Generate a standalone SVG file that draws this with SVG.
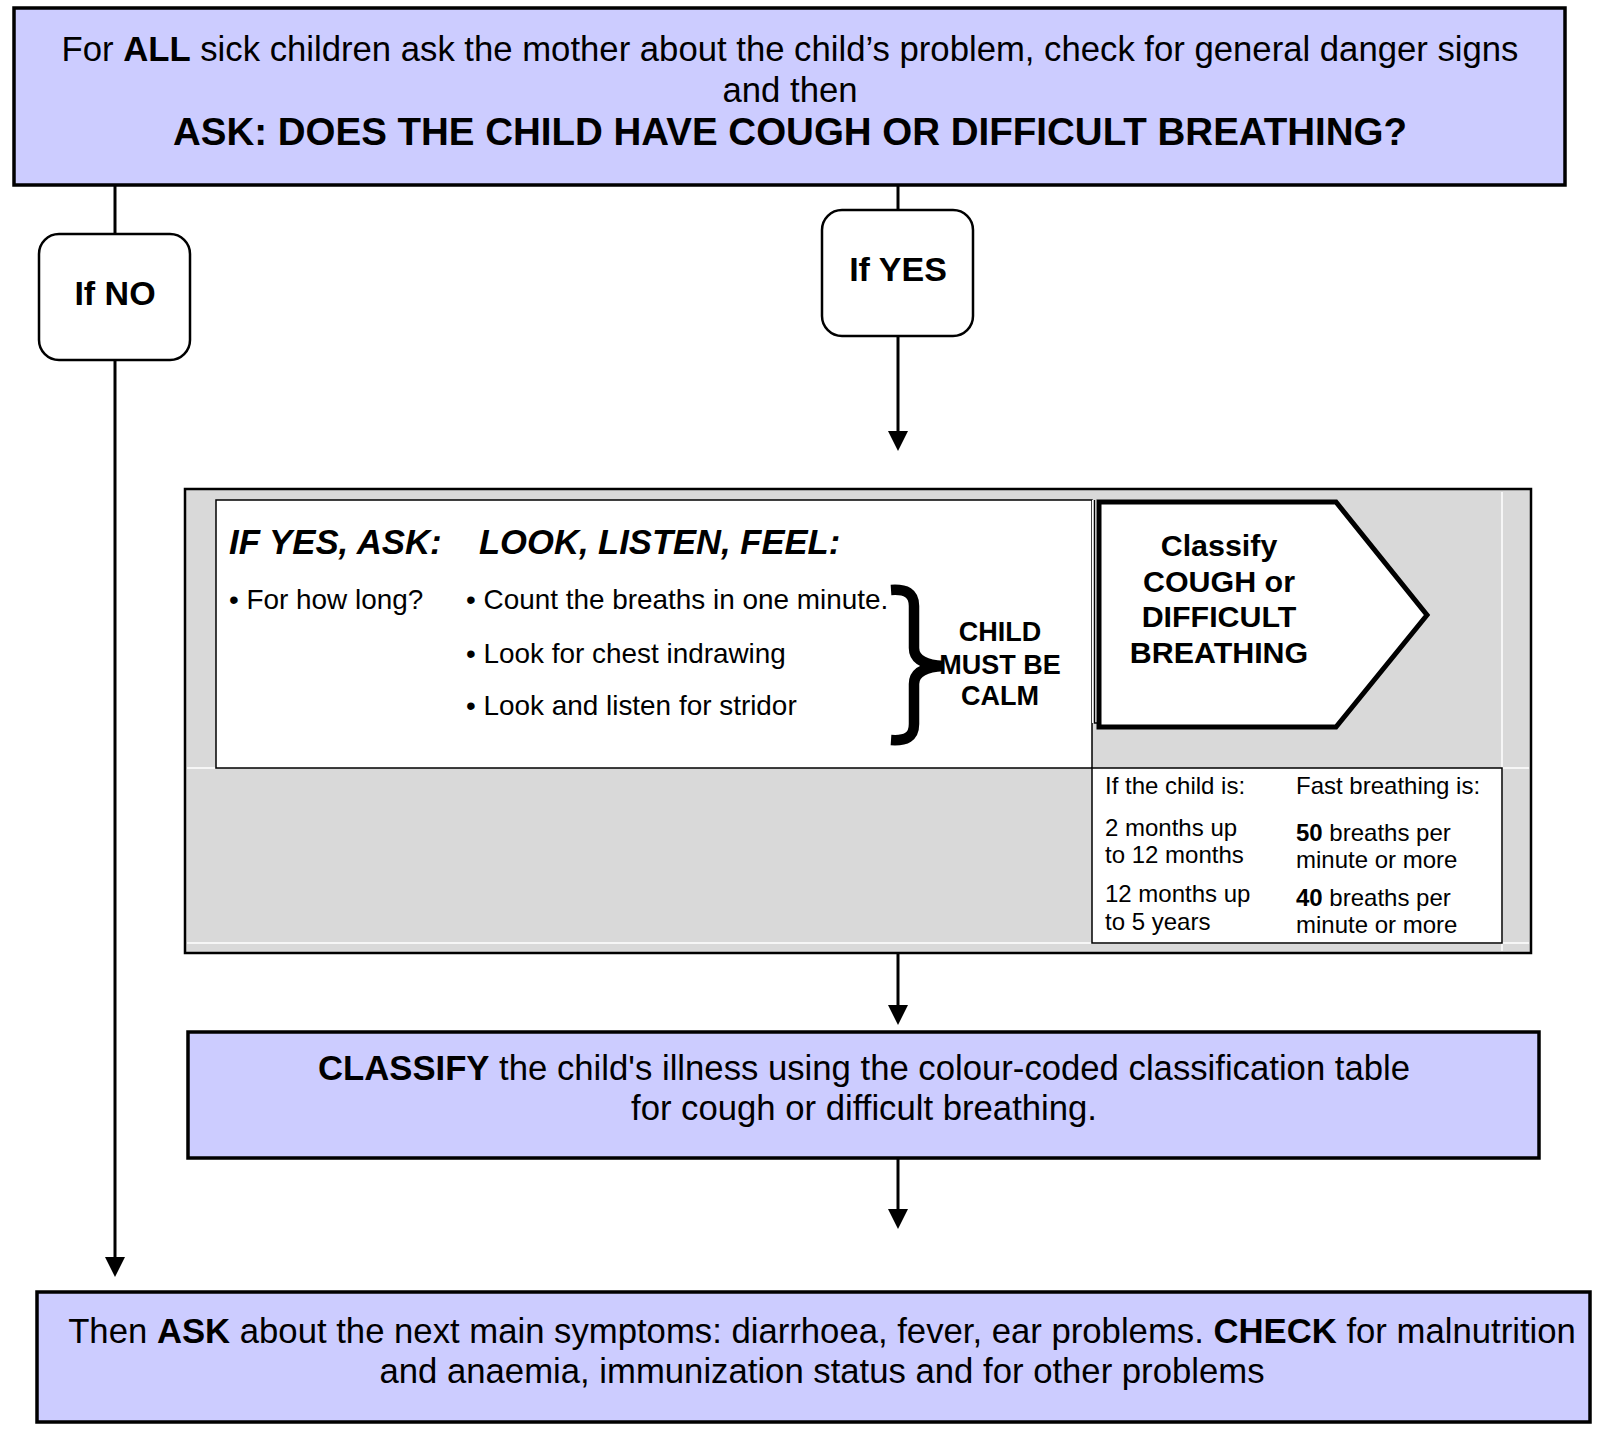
<svg xmlns="http://www.w3.org/2000/svg" width="1598" height="1429" viewBox="0 0 1598 1429">
<style>
text{font-family:"Liberation Sans",Arial,Helvetica,sans-serif;fill:#000}
.reg{font-size:34.7px}
.c{text-anchor:middle}
.b{font-weight:bold}
.lav{fill:#ccccff;stroke:#000;stroke-width:3.5}
.rnd{fill:#fff;stroke:#000;stroke-width:2.5}
.con{stroke:#000;stroke-width:3;fill:none}
.bul{font-size:27.9px}
.tb{font-size:24px}
.grid{stroke:#fff;stroke-width:1.5}
</style>
<defs>
<marker id="ah" viewBox="0 0 20 20" markerWidth="20" markerHeight="20" refX="10" refY="10" orient="auto" markerUnits="userSpaceOnUse">
<path d="M0,0 L20,10 L0,20 z" fill="#000"/>
</marker>
</defs>

<g id="connectors">
<line class="con" x1="115" y1="185" x2="115" y2="234"/>
<line class="con" x1="115" y1="360" x2="115" y2="1267" marker-end="url(#ah)"/>
<line class="con" x1="898" y1="185" x2="898" y2="210"/>
<line class="con" x1="898" y1="336" x2="898" y2="441" marker-end="url(#ah)"/>
<line class="con" x1="898" y1="953" x2="898" y2="1015" marker-end="url(#ah)"/>
<line class="con" x1="898" y1="1158" x2="898" y2="1219" marker-end="url(#ah)"/>
</g>

<g id="start">
<rect class="lav" x="14" y="8" width="1551" height="177"/>
<text class="reg c" x="790" y="61">For <tspan class="b">ALL</tspan> sick children ask the mother about the child’s problem, check for general danger signs</text>
<text class="reg c" x="790" y="102">and then</text>
<text class="b c" x="790" y="145" font-size="38.5">ASK: DOES THE CHILD HAVE COUGH OR DIFFICULT BREATHING?</text>
</g>

<g id="if-no">
<rect class="rnd" x="39" y="234" width="151" height="126" rx="20"/>
<text class="b c" x="115" y="305" font-size="34">If NO</text>
</g>

<g id="if-yes">
<rect class="rnd" x="822" y="210" width="151" height="126" rx="20"/>
<text class="b c" x="898" y="281" font-size="34">If YES</text>
</g>

<g id="assess">
<rect x="185" y="489" width="1346" height="464" fill="#d9d9d9" stroke="#000" stroke-width="2.5"/>
<line class="grid" x1="187" y1="768" x2="215" y2="768"/>
<line class="grid" x1="187" y1="943" x2="1529" y2="943"/>
<line class="grid" x1="1502" y1="492" x2="1502" y2="951"/>
<line class="grid" x1="1503" y1="768" x2="1529" y2="768"/>
<rect x="216" y="500" width="876" height="268" fill="#fff" stroke="#000" stroke-width="1.5"/>
<rect x="1092" y="500" width="8" height="223" fill="#fff"/>
<path d="M1094.5,500 L1094.5,723 L1100,723" fill="none" stroke="#000" stroke-width="1.5"/>
<text class="b" x="229" y="554" font-size="34.8" font-style="italic">IF YES, ASK:</text>
<text class="b" x="479" y="554" font-size="34.6" font-style="italic">LOOK, LISTEN, FEEL:</text>
<text class="bul" x="229" y="609">• For how long?</text>
<text class="bul" x="466" y="609">• Count the breaths in one minute.</text>
<text class="bul" x="466" y="663">• Look for chest indrawing</text>
<text class="bul" x="466" y="715">• Look and listen for stridor</text>
<path d="M891,590 C906,589 914,593 914,606 L914,648 C914,660 926,665 943,666 C926,667 914,672 914,684 L914,724 C914,737 906,741 891,740" fill="none" stroke="#000" stroke-width="10.5"/>
<text class="b c" x="1000" y="641" font-size="27">CHILD</text>
<text class="b c" x="1000" y="674" font-size="27">MUST BE</text>
<text class="b c" x="1000" y="705" font-size="27">CALM</text>
</g>

<g id="classify-arrow">
<path d="M1099,502 L1336,502 L1427,615 L1336,727 L1099,727 Z" fill="#fff" stroke="#000" stroke-width="5"/>
<text class="b c" x="1219" y="556" font-size="30.4">Classify</text>
<text class="b c" x="1219" y="592" font-size="30.4">COUGH or</text>
<text class="b c" x="1219" y="627" font-size="30.4">DIFFICULT</text>
<text class="b c" x="1219" y="663" font-size="30.4">BREATHING</text>
</g>

<g id="fast-breathing-table">
<rect x="1092" y="768" width="410" height="175" fill="#fff" stroke="#000" stroke-width="1.5"/>
<text class="tb" x="1105" y="794">If the child is:</text>
<text class="tb" x="1296" y="794">Fast breathing is:</text>
<text class="tb" x="1105" y="836">2 months up</text>
<text class="tb" x="1105" y="863">to 12 months</text>
<text class="tb" x="1105" y="902">12 months up</text>
<text class="tb" x="1105" y="930">to 5 years</text>
<text class="tb" x="1296" y="841"><tspan class="b">50</tspan> breaths per</text>
<text class="tb" x="1296" y="868">minute or more</text>
<text class="tb" x="1296" y="906"><tspan class="b">40</tspan> breaths per</text>
<text class="tb" x="1296" y="933">minute or more</text>
</g>

<g id="classify">
<rect class="lav" x="188" y="1032" width="1351" height="126"/>
<text class="reg c" x="864" y="1080"><tspan class="b">CLASSIFY</tspan> the child's illness using the colour-coded classification table</text>
<text class="reg c" x="864" y="1120">for cough or difficult breathing.</text>
</g>

<g id="next">
<rect class="lav" x="37" y="1292" width="1553" height="130"/>
<text class="reg c" x="822" y="1343">Then <tspan class="b">ASK</tspan> about the next main symptoms: diarrhoea, fever, ear problems. <tspan class="b">CHECK</tspan> for malnutrition</text>
<text class="reg c" x="822" y="1383">and anaemia, immunization status and for other problems</text>
</g>
</svg>
